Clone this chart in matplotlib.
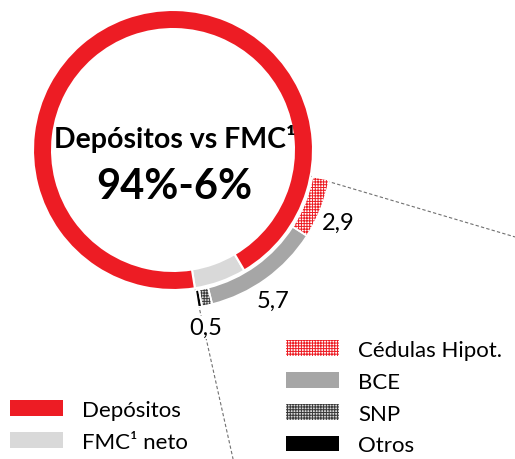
import matplotlib.pyplot as plt
import numpy as np
from matplotlib.patches import Patch

plt.rcParams['font.family'] = ['Lato', 'DejaVu Sans']
plt.rcParams['hatch.linewidth'] = 0.7

# anillo principal (%)
mix_labels = ["Depósitos", "FMC¹ neto"]
mix_values = [94, 6]
mix_colors = ["#ED1C24", "#D9D9D9"]

# desglose de la FMC
fmc_labels = ["Cédulas Hipot.", "BCE", "SNP", "Otros"]
fmc_values = [2.9, 5.7, 0.5, 0.2]
fmc_text = ["2,9", "5,7", "0,5", ""]
fmc_face = ["white", "#A6A6A6", "#D8D8D8", "black"]
fmc_hatch_col = ["#ED1C24", "#A6A6A6", "#3A3A3A", "black"]
fmc_hatch = ["++++++", None, "++++++", None]

titulo = "Depósitos vs FMC¹"
subtitulo = "94%-6%"

W, H = 515, 460
R = 140.0          # radio del anillo en px
cx, cy = 173, 151  # centro en px
inicio = -81
grados_unidad = 7.55
vuelta = 360 / grados_unidad

fig = plt.figure(figsize=(W / 100, H / 100), dpi=100)
ax = fig.add_axes([0, 0, 1, 1])

# anillo principal: FMC primero para que empiece en "inicio"
ax.pie(mix_values[::-1], colors=mix_colors[::-1], radius=1, startangle=inicio,
       counterclock=True, wedgeprops=dict(width=0.136, edgecolor='white', linewidth=1.5))

# anillo exterior con el desglose (parte vacía invisible)
vals = fmc_values[::-1] + [vuelta - sum(fmc_values)]
cunas, _ = ax.pie(vals, radius=1.136, startangle=inicio, counterclock=True,
                  wedgeprops=dict(width=0.121, linewidth=0))
borde, _ = ax.pie(vals, radius=1.136, startangle=inicio, counterclock=True,
                  wedgeprops=dict(width=0.121, linewidth=1.2, edgecolor='white', facecolor='none'))
cunas[-1].set_visible(False)
borde[-1].set_visible(False)
for w, fc, hc, h in zip(cunas[:-1], fmc_face[::-1], fmc_hatch_col[::-1], fmc_hatch[::-1]):
    w.set_facecolor(fc)
    w.set_edgecolor(hc)
    w.set_linewidth(0)
    if h:
        w.set_hatch(h)

# etiquetas de valores
for w, t in zip(cunas[:-1], fmc_text[::-1]):
    if not t:
        continue
    a = np.deg2rad((w.theta1 + w.theta2) / 2 - 2)
    ax.text(1.29 * np.cos(a), 1.29 * np.sin(a), t, ha='center', va='center', fontsize=17,
            bbox=dict(facecolor='white', edgecolor='none', pad=0.5), zorder=5)

# lineas de conexion
a1 = np.deg2rad(cunas[0].theta1)
a2 = np.deg2rad(cunas[-2].theta2)
ax.plot([np.cos(a2), 2.443], [np.sin(a2), -0.621], ls=(0, (3, 2)), color='#707070', lw=0.8, zorder=0)
ax.plot([np.cos(a1), 0.429], [np.sin(a1), -2.207], ls=(0, (3, 2)), color='#707070', lw=0.8, zorder=0)

# textos centrales
ax.text(0.01, 0.086, titulo, ha='center', va='center', fontsize=20.5, fontweight='bold')
ax.text(0.01, -0.257, subtitulo, ha='center', va='center', fontsize=30, fontweight='bold')

ax.set_xlim(-cx / R, (W - cx) / R)
ax.set_ylim(-(H - cy) / R, cy / R)
ax.axis('off')

# leyendas
estilo = dict(loc='upper left', frameon=False, fontsize=16, handlelength=2.39, handleheight=0.72,
              handletextpad=0.86, labelspacing=0.53, borderpad=0, borderaxespad=0)
h_izq = [Patch(facecolor=c, edgecolor='none') for c in mix_colors]
fig.legend(h_izq, mix_labels, bbox_to_anchor=(10 / W, 1 - 401 / H), **estilo)

h_der = []
for fc, hc, h in zip(fmc_face, fmc_hatch_col, fmc_hatch):
    h_der.append(Patch(facecolor=fc, edgecolor=hc, hatch=h, linewidth=0))
fig.legend(h_der, fmc_labels, bbox_to_anchor=(286 / W, 1 - 341 / H), **estilo)

fig.savefig("out.png", dpi=100)
